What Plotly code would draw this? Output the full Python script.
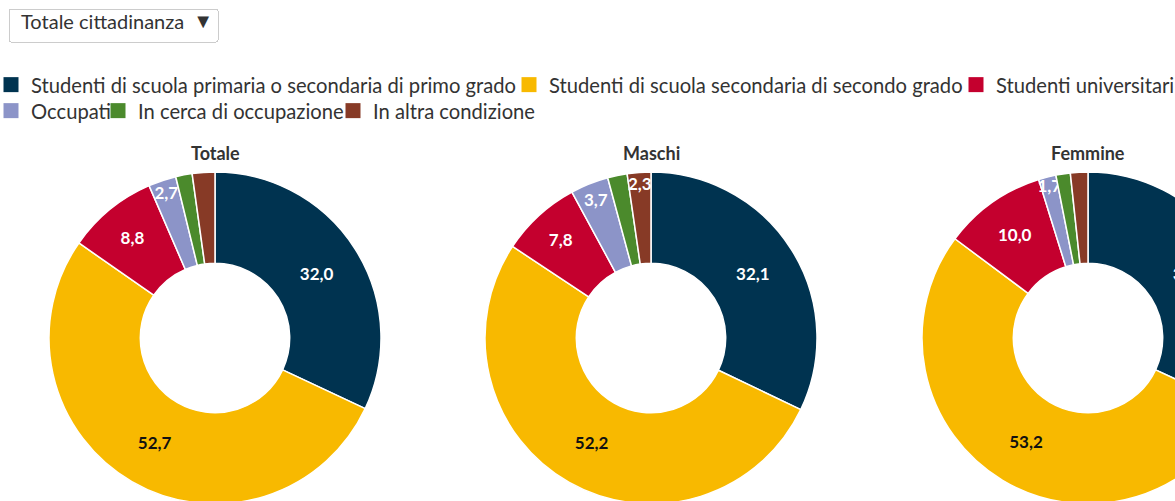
import plotly.graph_objects as go

# dati (valori percentuali)
categorie = [
    "Studenti di scuola primaria o secondaria di primo grado",
    "Studenti di scuola secondaria di secondo grado",
    "Studenti universitari",
    "Occupati",
    "In cerca di occupazione",
    "In altra condizione",
]
titoli = ["Totale", "Maschi", "Femmine"]
totale = [32.0, 52.7, 8.8, 2.7, 1.6, 2.2]
maschi = [32.1, 52.2, 7.8, 3.7, 1.9, 2.3]
femmine = [32.0, 53.2, 10.0, 1.7, 1.4, 1.7]
# quali etichette sono visibili in ogni torta
mostra = [
    [1, 1, 1, 1, 0, 0],
    [1, 1, 1, 1, 0, 1],
    [1, 1, 1, 1, 0, 0],
]
menu_opzioni = ["Totale cittadinanza"]

colori = ["#003350", "#F8B900", "#C4002E", "#8C94C8", "#4B8A2C", "#873A26"]
colori_testo = ["white", "#111111", "white", "white", "white", "white"]

W, H = 1310, 560
M_T, M_R = 130, 20
PW = W - M_R
PH = H - M_T
FONT = "Lato"

fig = go.Figure()
centri = [215, 651, 1088]
for titolo, valori, vis, cx in zip(titoli, [totale, maschi, femmine], mostra, centri):
    fig.add_trace(go.Pie(
        labels=categorie,
        values=valori,
        name=titolo,
        hole=0.45,
        sort=False,
        direction="clockwise",
        rotation=0,
        marker=dict(colors=colori, line=dict(color="white", width=1.5)),
        texttemplate=["%{value:.1f}" if v else "" for v in vis],
        textposition="inside",
        insidetextorientation="horizontal",
        textfont=dict(color=colori_testo, size=17, family=FONT, weight="bold"),
        hoverinfo="label+value",
        showlegend=False,
        domain=dict(x=[(cx - 200) / PW, (cx + 200) / PW],
                    y=[(H - 504) / PH, (H - 172) / PH]),
    ))
    fig.add_annotation(
        text="<b>" + titolo + "</b>",
        x=cx / PW, y=(H - 153) / PH, xref="paper", yref="paper",
        xanchor="center", yanchor="middle", showarrow=False,
        font=dict(size=18, color="#333333", family=FONT),
    )

# ogni voce di legenda ha la sua legenda, per avere la spaziatura dell'originale
inizio_testo = [27, 545, 992, 27, 134, 369]
riga_y = [65, 65, 65, 91, 91, 91]
leg_layout = {}
for i, (cat, col) in enumerate(zip(categorie, colori)):
    key = "legend" if i == 0 else "legend%d" % (i + 1)
    fig.add_trace(go.Scatter(
        x=[None], y=[None],
        mode="markers",
        name=cat,
        marker=dict(symbol="square", size=15, color=col),
        legend=key,
        hoverinfo="skip",
    ))
    leg_layout[key] = dict(
        orientation="h",
        x=(inizio_testo[i] - 36) / PW, xanchor="left",
        y=1 + (M_T - riga_y[i]) / PH, yanchor="top",
        font=dict(size=20.2, color="#333333", family=FONT),
        itemclick=False, itemdoubleclick=False,
        bgcolor="rgba(0,0,0,0)",
    )

fig.update_layout(
    width=W,
    height=H,
    margin=dict(l=0, r=M_R, t=M_T, b=0, autoexpand=False),
    paper_bgcolor="white",
    plot_bgcolor="white",
    separators=",.",
    font=dict(family=FONT, color="#333333", size=19),
    xaxis=dict(visible=False),
    yaxis=dict(visible=False),
    uniformtext=dict(minsize=17, mode="show"),
    updatemenus=[dict(
        type="dropdown",
        x=8 / PW, xanchor="left",
        y=1 + (M_T - 8) / PH, yanchor="top",
        pad=dict(l=0, r=0, t=0, b=0),
        bgcolor="white",
        bordercolor="#cccccc",
        borderwidth=1,
        font=dict(size=20, color="#333333", family=FONT),
        showactive=False,
        buttons=[dict(label=o + "\u00a0", method="skip", args=[None])
                 for o in menu_opzioni],
    )],
    **leg_layout,
)

fig.write_html(
    "out.html",
    config={"displayModeBar": False},
    post_script="document.body.style.margin='0';document.body.style.overflow='hidden';",
)
